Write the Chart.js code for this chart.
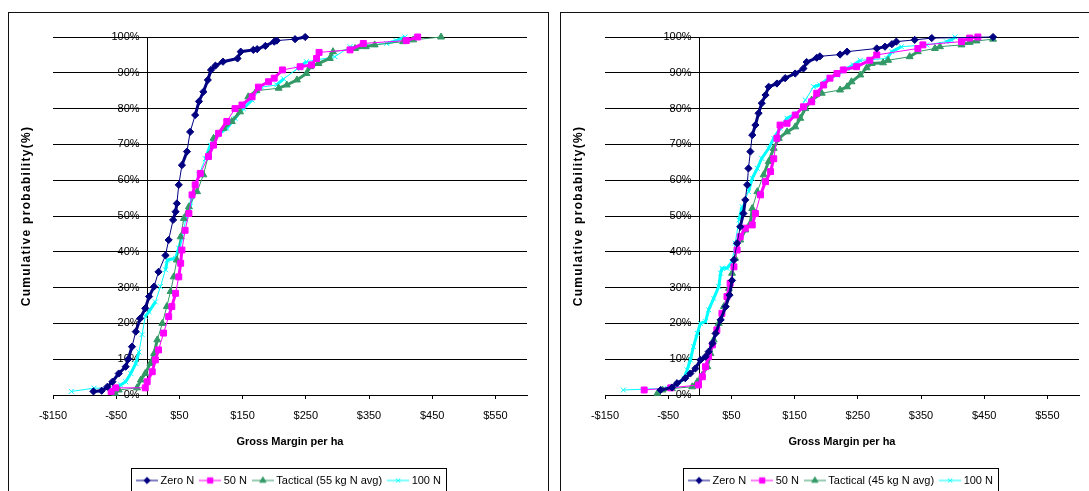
<!DOCTYPE html>
<html>
<head>
<meta charset="utf-8">
<script src="https://cdn.jsdelivr.net/npm/chart.js@4.4.1/dist/chart.umd.min.js"></script>
<style>
  html, body { margin: 0; padding: 0; background: #fff; overflow: hidden; }
  .panel { position: absolute; top: 12px; width: 539px; height: 500px; border: 1px solid #111; }
  #panelA { left: 8px; }
  #panelB { left: 560px; }
  canvas { position: absolute; left: 0; top: 0; }
</style>
</head>
<body>
<div class="panel" id="panelA"><canvas id="chartA" width="540" height="483"></canvas></div>
<div class="panel" id="panelB"><canvas id="chartB" width="540" height="483"></canvas></div>
<script>
// axis ticks
const gmTicks = [-150, -50, 50, 150, 250, 350, 450, 550];
const gmMin = -150, gmMax = 600;
const probMin = 0, probMax = 100, probStep = 10;

const namesA = ['Zero N', '50 N', 'Tactical (55 kg N avg)', '100 N'];
const namesB = ['Zero N', '50 N', 'Tactical (45 kg N avg)', '100 N'];

// [gross margin $/ha, cumulative probability %] - left chart
const zeroN_A = [[-86,1.0],[-73,1.2],[-64,2.3],[-56,3.7],[-46,6.0],[-35,7.9],[-31,10.0],[-25,13.5],[-19,17.7],[-12,21.4],[-4,24.2],[2,27.5],[10,30.3],[17,34.4],[28,39.0],[33,43.3],[40,48.9],[44,51.2],[46,53.5],[49,58.7],[54,64.2],[62,68.0],[67,73.5],[75,78.2],[81,82.0],[88,84.7],[95,88.0],[100,90.8],[107,92.0],[119,93.1],[142,94.0],[147,95.9],[167,96.4],[173,96.6],[186,97.5],[200,98.7],[204,99.0],[233,99.4],[249,100]];
const n50_A = [[-58,1.0],[-51,2.0],[-4,2.0],[-1,3.7],[7,6.5],[12,9.8],[17,12.6],[25,17.3],[33,21.9],[38,24.7],[44,28.4],[49,33.0],[52,36.8],[54,40.5],[59,46.0],[65,50.7],[70,55.9],[75,58.7],[83,61.9],[96,66.6],[104,69.8],[112,73.1],[125,76.4],[138,80.0],[149,81.0],[165,83.3],[175,86.0],[191,87.5],[200,88.5],[213,90.8],[241,91.7],[259,92.2],[267,94.0],[271,95.7],[320,96.4],[341,98.2],[409,99.0],[427,100]];
const tact_A = [[-52,0.5],[-46,1.4],[-17,2.0],[-11,4.2],[-4,6.0],[4,8.8],[10,11.6],[15,15.4],[23,20.0],[30,24.7],[36,28.9],[41,33.0],[46,37.7],[52,44.2],[57,49.3],[65,52.6],[78,56.8],[88,61.5],[96,67.0],[104,71.7],[120,74.5],[133,76.4],[146,79.1],[159,83.3],[172,85.0],[207,85.7],[220,86.6],[236,88.0],[251,89.8],[257,91.7],[270,92.6],[288,94.0],[293,95.9],[328,96.8],[345,97.3],[359,97.8],[404,98.7],[420,99.2],[464,100]];
const n100_A = [[-121,1.0],[-85,1.9],[-51,1.9],[-43,2.8],[-35,3.7],[-27,6.0],[-19,8.8],[-14,12.0],[-9,16.9],[-4,22.0],[2,23.3],[12,26.0],[20,30.3],[28,35.0],[31,37.7],[44,38.2],[49,41.0],[54,44.2],[60,48.9],[67,52.6],[70,55.4],[81,61.5],[91,66.0],[99,69.8],[110,72.6],[125,74.5],[138,77.3],[151,80.0],[165,82.4],[180,86.0],[204,86.6],[215,88.3],[236,91.1],[251,93.1],[296,94.5],[320,97.3],[378,98.2],[393,99.0],[407,100]];

// right chart
const zeroN_B = [[-62,1.4],[-44,2.1],[-36,3.3],[-23,4.7],[-15,6.0],[-7,7.4],[1,9.8],[9,10.7],[14,12.1],[20,14.4],[25,17.2],[33,21.0],[41,24.7],[47,27.9],[51,32.0],[54,37.7],[59,42.4],[64,47.0],[69,50.7],[72,54.5],[75,58.7],[77,63.3],[80,68.0],[83,72.6],[88,75.4],[93,78.7],[98,81.5],[104,83.8],[109,86.1],[122,87.0],[135,88.5],[151,89.8],[164,91.2],[169,93.0],[185,94.2],[190,94.6],[222,95.1],[233,95.9],[280,96.8],[293,97.3],[304,98.0],[311,98.7],[340,99.2],[367,99.7],[464,100]];
const n50_B = [[-88,1.4],[-46,2.0],[-2,2.8],[4,5.1],[9,7.9],[14,10.7],[20,14.0],[27,18.2],[35,22.8],[43,27.5],[48,31.2],[54,35.8],[59,40.5],[64,44.2],[72,46.6],[83,47.5],[88,50.7],[96,55.9],[104,59.6],[112,62.4],[117,66.0],[122,71.7],[127,75.4],[138,75.9],[151,78.2],[164,80.5],[177,81.9],[185,84.3],[196,86.6],[206,88.5],[217,89.8],[227,90.8],[248,91.7],[269,93.5],[280,95.0],[345,96.8],[353,97.8],[414,98.7],[427,99.7],[440,100]];
const tact_B = [[-67,0.5],[-59,1.4],[-44,1.8],[-12,2.3],[-4,3.7],[4,5.6],[12,7.9],[17,11.6],[22,15.4],[30,20.0],[38,24.7],[46,29.8],[51,34.0],[56,38.2],[64,43.3],[72,46.1],[80,48.0],[83,52.1],[91,56.8],[101,61.5],[109,65.2],[117,68.9],[125,71.7],[138,73.5],[151,74.9],[159,77.3],[167,80.0],[177,82.4],[193,84.3],[222,85.2],[233,86.1],[240,87.5],[254,89.4],[264,91.4],[272,92.6],[290,92.8],[298,93.5],[332,94.5],[345,95.9],[372,96.8],[380,97.3],[414,97.8],[427,98.5],[438,98.9],[464,99.4]];
const n100_B = [[-121,1.4],[-51,1.9],[-36,2.8],[-25,4.7],[-20,7.0],[-15,9.8],[-10,13.5],[-4,17.2],[1,20.0],[9,20.5],[14,23.8],[22,27.0],[30,30.3],[33,34.0],[35,35.4],[43,35.4],[51,37.2],[56,42.4],[62,48.9],[67,52.6],[77,56.8],[83,60.5],[91,63.3],[98,66.1],[109,68.9],[117,71.7],[127,74.5],[138,77.3],[154,78.7],[167,82.4],[180,86.1],[190,86.6],[204,88.5],[217,89.4],[233,91.2],[243,92.2],[254,93.5],[296,94.0],[304,95.9],[319,97.3],[359,97.8],[390,98.7],[398,99.2],[404,100]];

const colours = ['#000080', '#FF00FF', '#339966', '#00FFFF'];
const markers = ['rectRot', 'rect', 'triangle', 'crossRot'];
const radii = [3.6, 4.2, 4, 3.5];

Chart.defaults.font.family = "'Liberation Sans', Arial, sans-serif";
Chart.defaults.font.size = 11;
Chart.defaults.color = '#000';

// little line+marker swatch for the legend, like Excel
function legendSymbol(i) {
  const c = document.createElement('canvas');
  c.width = 22; c.height = 10;
  const g = c.getContext('2d');
  g.strokeStyle = colours[i]; g.fillStyle = colours[i]; g.lineWidth = 1;
  g.beginPath(); g.moveTo(0, 5); g.lineTo(22, 5); g.stroke();
  Chart.helpers.drawPoint(g, {pointStyle: markers[i], radius: radii[i] - 0.4, rotation: 0, borderWidth: 1}, 11, 5);
  return c;
}
const symbols = colours.map((c, i) => legendSymbol(i));

// where markers pile up the line reads as a thick band
function segWidth(ctx) {
  const dx = ctx.p1.x - ctx.p0.x, dy = ctx.p1.y - ctx.p0.y;
  return Math.hypot(dx, dy) < 15 ? 3 : 1;
}

function makeDatasets(names, series) {
  return series.map((pts, i) => ({
    label: names[i],
    data: pts.map(p => ({x: p[0], y: p[1]})),
    borderColor: colours[i],
    backgroundColor: colours[i],
    borderWidth: 1,
    segment: { borderWidth: segWidth },
    pointStyle: markers[i],
    pointRadius: radii[i],
    pointBorderWidth: 1,
    fill: false,
    tension: 0,
    clip: false
  }));
}

const legendFrame = {
  id: 'legendFrame',
  afterDraw(chart) {
    const hb = chart.legend.legendHitBoxes;
    if (!hb || !hb.length) return;
    const last = hb[hb.length - 1];
    const x0 = Math.round(hb[0].left - 8) + 0.5;
    const x1 = Math.round(last.left + last.width + 5) + 0.5;
    const y0 = Math.round(hb[0].top - 7) + 0.5;
    const ctx = chart.ctx;
    ctx.save();
    ctx.strokeStyle = '#000';
    ctx.lineWidth = 1;
    ctx.strokeRect(x0, y0, x1 - x0, 40);
    ctx.restore();
  }
};

// spaced-out rotated axis title (its layer is drawn after the datasets)
const titleSpacing = {
  id: 'titleSpacing',
  afterDatasetsDraw(chart) { chart.ctx.letterSpacing = '1.3px'; },
  afterDraw(chart) { chart.ctx.letterSpacing = '0px'; }
};

function makeChart(id, names, series) {
  return new Chart(document.getElementById(id), {
    type: 'line',
    data: { datasets: makeDatasets(names, series) },
    options: {
      responsive: false,
      animation: false,
      layout: { padding: { left: 0, right: 22, top: 24, bottom: 0 } },
      scales: {
        x: {
          type: 'linear',
          min: gmMin,
          max: gmMax,
          afterBuildTicks: s => { s.ticks = gmTicks.map(v => ({value: v})); },
          afterFit: s => { s.height = 72; },
          grid: { drawOnChartArea: false, drawTicks: true, tickLength: 4, color: '#000' },
          border: { display: true, color: '#000' },
          ticks: {
            padding: 10, autoSkip: false, maxRotation: 0,
            callback: v => (v < 0 ? '-$' : '$') + Math.abs(v)
          },
          title: {
            display: true, text: 'Gross Margin per ha',
            font: { size: 11, weight: 'bold' },
            padding: { top: 4, bottom: 18 }
          }
        },
        // gridlines + axis line crossing at $0
        y: {
          type: 'linear',
          position: { x: 0 },
          min: probMin,
          max: probMax,
          ticks: { display: false, stepSize: probStep },
          grid: { color: '#000', drawTicks: false },
          border: { display: true, color: '#000' }
        },
        // percentage labels, set a little left of the $0 axis
        yl: {
          type: 'linear',
          position: { x: -13 },
          min: probMin,
          max: probMax,
          ticks: { stepSize: probStep, callback: v => v + '%' },
          grid: { display: false },
          border: { display: false }
        },
        yt: {
          type: 'linear',
          position: 'left',
          afterFit: s => { s.width = 44; },
          ticks: { display: false },
          grid: { display: false, z: 1 },
          border: { display: false },
          title: {
            display: true, text: 'Cumulative probability(%)',
            font: { size: 12, weight: 'bold' },
            padding: { top: 10, bottom: 0 }
          }
        }
      },
      plugins: {
        tooltip: { enabled: false },
        legend: {
          position: 'bottom',
          fullSize: false,
          labels: {
            usePointStyle: true,
            pointStyleWidth: 16,
            boxHeight: 11,
            padding: 8,
            font: { size: 11 },
            generateLabels: chart => {
              const items = Chart.defaults.plugins.legend.labels.generateLabels(chart);
              items.forEach(it => { it.pointStyle = symbols[it.datasetIndex]; });
              return items;
            }
          }
        }
      }
    },
    plugins: [legendFrame, titleSpacing]
  });
}

makeChart('chartA', namesA, [zeroN_A, n50_A, tact_A, n100_A]);
makeChart('chartB', namesB, [zeroN_B, n50_B, tact_B, n100_B]);
</script>
</body>
</html>
